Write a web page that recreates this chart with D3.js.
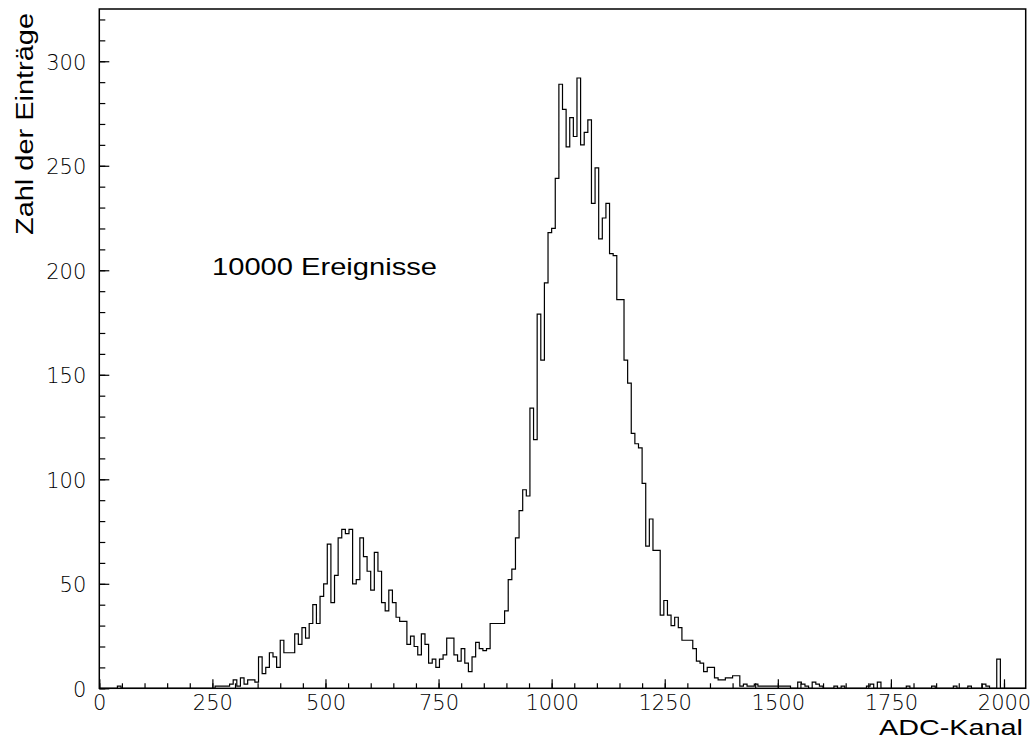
<!DOCTYPE html>
<html>
<head>
<meta charset="utf-8">
<script src="https://cdn.jsdelivr.net/npm/d3@7"></script>
<style>
    body { margin: 0; background: white; }
    .tick-label { font-family: "DejaVu Sans", sans-serif; font-weight: 200; font-size: 21px; fill: #000; }
    .title { font-family: "Liberation Sans", Arial, sans-serif; fill: #000; }
</style>
</head>
<body>
<script>
// ADC spectrum, 256 bins of 8 channels each (0..2048)
const binWidth = 8;
const counts = [
    0, 0, 0, 0, 0, 1, 0, 0, 0, 0, 0, 0, 0, 0, 0, 0,
    0, 0, 0, 0, 0, 0, 0, 0, 0, 0, 0, 0, 0, 0, 0, 0,
    1, 1, 1, 1, 2, 4, 1, 5, 2, 4, 4, 3, 15, 7, 10, 17,
    15, 10, 23, 17, 17, 17, 26, 21, 29, 24, 31, 40, 31, 44, 50, 69,
    41, 54, 72, 76, 74, 76, 50, 52, 72, 63, 56, 47, 65, 56, 41, 37,
    47, 41, 34, 32, 32, 21, 25, 20, 16, 26, 21, 12, 14, 10, 14, 16,
    24, 24, 16, 13, 19, 12, 8, 15, 22, 19, 18, 19, 31, 31, 31, 31,
    37, 52, 57, 72, 85, 95, 92, 134, 119, 179, 157, 194, 218, 220, 244, 289,
    277, 259, 273, 264, 292, 260, 266, 272, 232, 249, 215, 225, 232, 208, 207, 186,
    186, 157, 146, 122, 117, 115, 98, 68, 81, 66, 66, 35, 42, 35, 30, 34,
    29, 23, 23, 23, 19, 13, 12, 8, 10, 10, 5, 4, 4, 5, 5, 6,
    6, 1, 2, 1, 1, 2, 1, 1, 1, 1, 1, 1, 1, 1, 1, 0,
    0, 3, 2, 1, 0, 3, 2, 1, 0, 0, 0, 1, 0, 1, 0, 0,
    0, 0, 0, 0, 1, 2, 0, 3, 0, 0, 0, 0, 0, 0, 0, 1,
    0, 0, 0, 0, 0, 0, 1, 0, 0, 0, 0, 0, 1, 0, 0, 0,
    1, 0, 0, 0, 2, 1, 0, 0, 14, 0, 0, 0, 0, 0, 0, 0
];
const xDomain = [0, 2048];
const yDomain = [0, 325];
const xMajorTicks = [0, 250, 500, 750, 1000, 1250, 1500, 1750, 2000];
const xMinorTicks = d3.range(0, 2048, 50);
const yMajorTicks = [0, 50, 100, 150, 200, 250, 300];
const yMinorTicks = d3.range(0, 325, 10);
const xTitle = "ADC-Kanal";
const yTitle = "Zahl der Einträge";
const note = "10000 Ereignisse";

const width = 1035, height = 749;
const plotLeft = 99.3, plotRight = 1025.7, plotTop = 9, plotBottom = 688.3;

const svg = d3.select("body").append("svg")
    .attr("width", width)
    .attr("height", height);

const x = d3.scaleLinear().domain(xDomain).range([plotLeft, plotRight]);
const y = d3.scaleLinear().domain(yDomain).range([plotBottom, plotTop]);
const fmt = d3.format("d");

// minor ticks first, then major ticks with labels
svg.append("g")
    .attr("transform", `translate(0,${plotBottom})`)
    .call(d3.axisBottom(x).tickValues(xMinorTicks).tickSize(-5).tickFormat(""))
    .call(g => g.select(".domain").remove());

svg.append("g")
    .attr("transform", `translate(0,${plotBottom})`)
    .call(d3.axisBottom(x).tickValues(xMajorTicks).tickSize(-9).tickPadding(7).tickFormat(fmt))
    .call(g => g.select(".domain").remove())
    .call(g => g.attr("font-size", null).attr("font-family", null))
    .call(g => g.selectAll("text").attr("class", "tick-label"));

svg.append("g")
    .attr("transform", `translate(${plotLeft},0)`)
    .call(d3.axisLeft(y).tickValues(yMinorTicks).tickSize(-6).tickFormat(""))
    .call(g => g.select(".domain").remove());

svg.append("g")
    .attr("transform", `translate(${plotLeft},0)`)
    .call(d3.axisLeft(y).tickValues(yMajorTicks).tickSize(-10).tickPadding(13).tickFormat(fmt))
    .call(g => g.select(".domain").remove())
    .call(g => g.attr("font-size", null).attr("font-family", null))
    .call(g => g.selectAll("text").attr("class", "tick-label").attr("dy", "0.37em"));

svg.selectAll(".tick line").attr("stroke", "#000").attr("stroke-width", 1.2);

// histogram outline
const pts = [];
counts.forEach((c, i) => {
    pts.push([i * binWidth, c]);
    pts.push([(i + 1) * binWidth, c]);
});
pts.unshift([0, 0]);
pts.push([counts.length * binWidth, 0]);

const line = d3.line().x(d => x(d[0])).y(d => y(d[1]));
svg.append("path")
    .datum(pts)
    .attr("d", line)
    .attr("fill", "none")
    .attr("stroke", "#000")
    .attr("stroke-width", 1.2);

// frame
svg.append("rect")
    .attr("x", plotLeft).attr("y", plotTop)
    .attr("width", plotRight - plotLeft).attr("height", plotBottom - plotTop)
    .attr("fill", "none")
    .attr("stroke", "#000")
    .attr("stroke-width", 1.5);

// titles
svg.append("text")
    .attr("class", "title")
    .attr("x", 1023).attr("y", 735)
    .attr("text-anchor", "end")
    .attr("font-size", 22)
    .attr("textLength", 144).attr("lengthAdjust", "spacingAndGlyphs")
    .text(xTitle);

svg.append("text")
    .attr("class", "title")
    .attr("transform", "translate(33,13) rotate(-90)")
    .attr("text-anchor", "end")
    .attr("font-size", 23)
    .attr("textLength", 222).attr("lengthAdjust", "spacingAndGlyphs")
    .text(yTitle);

svg.append("text")
    .attr("class", "title")
    .attr("x", 212).attr("y", 275)
    .attr("font-size", 24)
    .attr("textLength", 225).attr("lengthAdjust", "spacingAndGlyphs")
    .text(note);
</script>
</body>
</html>
